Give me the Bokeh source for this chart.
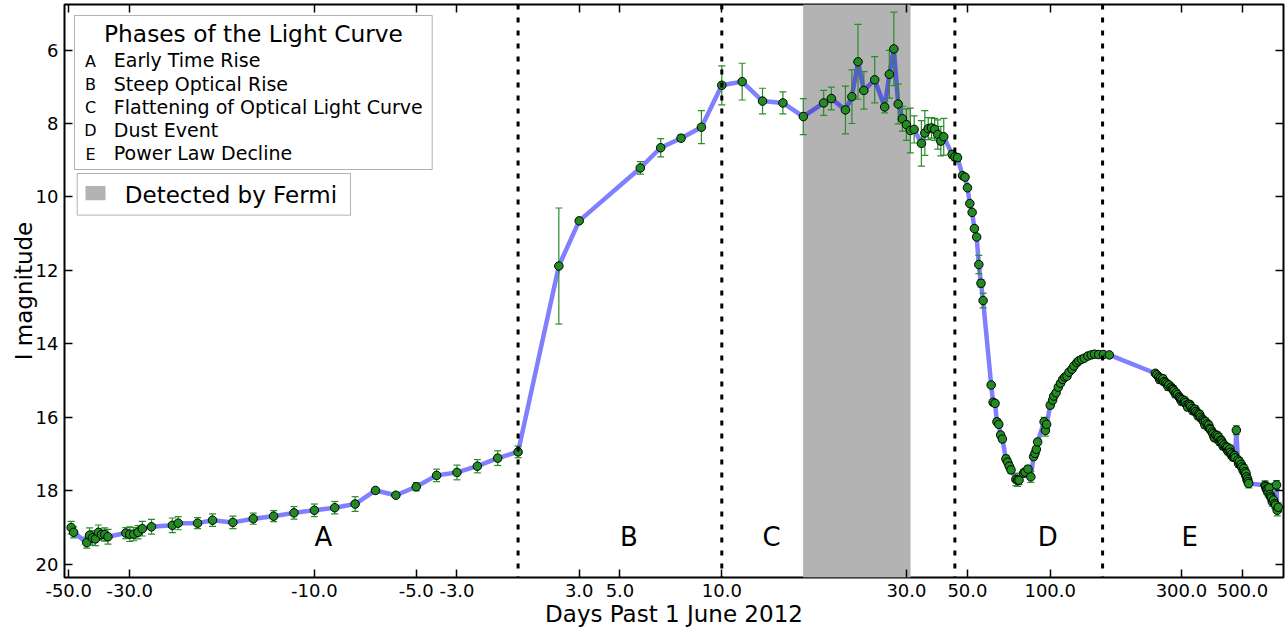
import numpy as np
from bokeh.plotting import figure
from bokeh.models import (Range1d, FixedTicker, LinearAxis, Span, BoxAnnotation,
                          Label, ColumnDataSource, CustomJSTickFormatter)
from bokeh.core.properties import value
from bokeh.embed import file_html
from bokeh.resources import INLINE

# ---------------- data (days past 1 June 2012, I magnitude, error) ----------------
days_a = [-49, -48, -43, -42, -41, -40, -39, -38, -37, -36, -31, -30, -29, -28, -27, -25,
          -21, -20, -17, -15, -14, -13, -12, -11, -10, -9, -8, -7, -6, -5, -4, -3, -2, -1, 0]
mag_a = [19.00, 19.13, 19.41, 19.21, 19.28, 19.31, 19.13, 19.19, 19.19, 19.25, 19.15, 19.18,
         19.18, 19.13, 19.03, 18.98, 18.94, 18.88, 18.88, 18.80, 18.86, 18.76, 18.69, 18.60,
         18.53, 18.46, 18.36, 17.99, 18.12, 17.89, 17.58, 17.50, 17.33, 17.11, 16.94]
err_a = [0.17, 0.15, 0.15, 0.2, 0.2, 0.18, 0.2, 0.15, 0.18, 0.2, 0.15, 0.2, 0.18, 0.18, 0.2,
         0.2, 0.2, 0.18, 0.15, 0.17, 0.17, 0.15, 0.15, 0.17, 0.17, 0.17, 0.2, 0.05, 0.05,
         0.11, 0.17, 0.2, 0.18, 0.2, 0.16]

days_b = [2, 3, 6, 7, 8, 9, 10]
mag_b = [11.88, 10.65, 9.21, 8.66, 8.40, 8.10, 6.96]
err_b = [1.58, 0.05, 0.17, 0.25, 0.09, 0.45, 0.53]

days_c = [11, 12, 13, 14, 15, 16, 18, 19, 20, 21, 23, 25, 26, 27, 28, 29, 30, 31, 32, 34,
          35, 36, 37, 38, 39, 40, 41, 44]
mag_c = [6.86, 7.39, 7.44, 7.81, 7.44, 7.32, 7.63, 7.27, 6.32, 7.10, 6.81, 7.55, 6.66, 5.97,
         7.47, 7.87, 8.03, 8.19, 8.16, 8.54, 8.26, 8.14, 8.12, 8.16, 8.30, 8.48, 8.36, 8.84]
err_c = [0.5, 0.35, 0.3, 0.49, 0.34, 0.31, 0.65, 0.73, 1.02, 0.51, 0.63, 0.16, 0.65, 1.0,
         0.54, 0.34, 0.43, 0.61, 0.37, 0.62, 0.61, 0.3, 0.28, 0.3, 0.4, 0.4, 0.5, 0.1]

days_d = [45, 46, 48, 49, 50, 51, 52, 53, 54, 55, 56, 57, 61, 62, 63, 64, 65, 66, 67, 69,
          70, 71, 72, 75, 76, 77, 80, 81, 83, 85, 87, 88, 89, 90, 95, 96, 97, 100, 102, 103,
          105, 107, 109, 111, 113, 115, 117, 120, 122, 125, 127, 130, 133, 137, 141, 145, 150]
mag_d = [8.91, 8.93, 9.42, 9.46, 9.75, 10.18, 10.42, 10.86, 11.09, 11.84, 12.35, 12.82,
         15.12, 15.59, 15.62, 16.12, 16.19, 16.48, 16.59, 17.13, 17.22, 17.33, 17.43, 17.69,
         17.71, 17.71, 17.52, 17.49, 17.41, 17.62, 17.07, 16.98, 16.87, 16.67, 16.12, 16.36,
         16.19, 15.67, 15.53, 15.42, 15.33, 15.18, 15.07, 14.97, 14.90, 14.88, 14.77, 14.69,
         14.60, 14.51, 14.46, 14.42, 14.39, 14.33, 14.30, 14.28, 14.29]
err_d = [0.1, 0.1, 0.05, 0.05, 0.05, 0.05, 0.05, 0.05, 0.05, 0.25,
         0.1, 0.2, 0.05, 0.08, 0.08, 0.08, 0.08, 0.08, 0.08, 0.1,
         0.1, 0.1, 0.1, 0.17, 0.17, 0.12, 0.1, 0.1, 0.1, 0.15,
         0.08, 0.08, 0.08, 0.08, 0.12, 0.15, 0.1, 0.08, 0.08, 0.06,
         0.06, 0.06, 0.06, 0.06, 0.06, 0.06, 0.06, 0.06, 0.06, 0.06,
         0.06, 0.06, 0.06, 0.06, 0.06, 0.06, 0.06]

days_e = [156, 164, 241, 244, 248, 252, 255, 259, 263, 266, 270, 275, 278, 282, 287, 290,
          294, 298, 302, 306, 310, 314, 319, 324, 328, 333, 338, 342, 347, 352, 357, 362,
          367, 372, 377, 383, 388, 394, 400, 405, 410, 416, 422, 428, 434, 440, 446, 452,
          458, 465, 470, 475, 481, 487, 492, 498, 506, 510, 513, 517, 520, 524, 527,
          604, 607, 612, 615, 620, 625, 630, 633, 638, 642, 648, 655, 660, 665, 669, 675]
mag_e = [14.29, 14.30, 14.80, 14.84, 14.90, 14.93, 14.98, 15.03, 15.05, 15.09, 15.12, 15.18,
         15.22, 15.28, 15.33, 15.38, 15.44, 15.50, 15.52, 15.58, 15.60, 15.66, 15.64, 15.70,
         15.76, 15.80, 15.84, 15.88, 15.91, 16.00, 16.05, 16.12, 16.12, 16.18, 16.21, 16.33,
         16.40, 16.53, 16.48, 16.50, 16.54, 16.62, 16.70, 16.75, 16.80, 16.82, 16.89, 16.95,
         17.00, 17.05, 17.10, 16.35, 17.16, 17.20, 17.30, 17.35, 17.39, 17.48, 17.57, 17.62,
         17.71, 17.75, 17.80,
         17.85, 17.89, 17.95, 17.98, 18.05, 17.92, 18.10, 18.16, 18.20, 18.30, 18.25, 18.35,
         18.39, 17.84, 18.53, 18.45]
err_e = [0.06, 0.06, 0.06, 0.06, 0.06, 0.06, 0.06, 0.08, 0.08, 0.08, 0.08, 0.08, 0.08, 0.08,
         0.08, 0.08, 0.08, 0.08, 0.1, 0.1, 0.1, 0.1, 0.1, 0.1, 0.1, 0.1, 0.1, 0.1, 0.1, 0.1,
         0.1, 0.1, 0.1, 0.1, 0.1, 0.1, 0.1, 0.1, 0.1, 0.1, 0.1, 0.1, 0.1, 0.1, 0.1, 0.1,
         0.1, 0.1, 0.1, 0.1, 0.1, 0.12, 0.1, 0.1, 0.1, 0.1, 0.1, 0.1, 0.1, 0.1, 0.12, 0.12,
         0.12,
         0.12, 0.12, 0.12, 0.12, 0.12, 0.12, 0.12, 0.12, 0.12, 0.12, 0.12, 0.12, 0.12, 0.12,
         0.15, 0.12]

# further phase-E observations (scatter within the declining band)
days_e2 = [250, 257, 268, 280, 285, 296, 300, 308, 316, 322, 330, 336, 345, 350, 360, 365,
           375, 380, 391, 397, 408, 413, 420, 425, 437, 443, 450, 455, 462, 468, 484, 495,
           503, 515, 522]
mag_e2 = [14.97, 14.95, 15.16, 15.24, 15.36, 15.47, 15.56, 15.55, 15.72, 15.66, 15.82, 15.78,
          15.96, 15.93, 16.08, 16.20, 16.26, 16.30, 16.45, 16.56, 16.60, 16.66, 16.64, 16.78,
          16.85, 16.92, 16.86, 17.02, 17.08, 17.04, 17.26, 17.28, 17.45, 17.52, 17.68]
err_e2 = [0.1] * 35

phase_bounds = [0, 10, 45, 155]          # dotted phase separators (days)
fermi_window = [14, 31]                  # days detected by Fermi
phase_letters = ["A", "B", "C", "D", "E"]
phase_letter_days = [-10, 5, 12, 90, 300]
phase_letter_mag = 19.27
phase_names = ["Early Time Rise", "Steep Optical Rise", "Flattening of Optical Light Curve",
               "Dust Event", "Power Law Decline"]
xtick_days = [-50, -30, -10, -5, -3, 3, 5, 10, 30, 50, 100, 300, 500]
xtick_labels = ["-50.0", "-30.0", "-10.0", "-5.0", "-3.0", "3.0", "5.0", "10.0", "30.0",
                "50.0", "100.0", "300.0", "500.0"]
ytick_vals = [6, 8, 10, 12, 14, 16, 18, 20]

# ---------------- symmetric-log x scale (linthresh 15) ----------------
LINTHRESH = 15.0
LINSCALE_ADJ = 1.0 / (1.0 - 0.1)


def symlog(t):
    t = np.asarray(t, dtype=float)
    a = np.abs(t)
    lin = a / LINTHRESH * LINSCALE_ADJ
    lg = LINSCALE_ADJ + np.log10(np.maximum(a, 1e-12) / LINTHRESH)
    return np.sign(t) * np.where(a <= LINTHRESH, lin, lg)


days = np.array(days_a + days_b + days_c + days_d + days_e + days_e2, dtype=float)
mags = np.array(mag_a + mag_b + mag_c + mag_d + mag_e + mag_e2, dtype=float)
errs = np.array(err_a + err_b + err_c + err_d + err_e + err_e2, dtype=float)
order = np.argsort(days, kind="stable")
days, mags, errs = days[order], mags[order], errs[order]

src = ColumnDataSource(dict(x=symlog(days), y=mags, lo=mags + errs, hi=mags - errs))

# ---------------- figure ----------------
W, H = 1285, 629
FL, FR, FT, FB = 64, 1283, 4, 578
X0, X1 = float(symlog(-51.8)), float(symlog(705))
YT, YB = 4.76, 20.36

p = figure(width=W, height=H, output_backend="svg", toolbar_location=None,
           x_range=Range1d(X0, X1), y_range=Range1d(YB, YT),
           min_border_left=FL, min_border_right=W - FR, min_border_top=FT,
           min_border_bottom=H - FB)
p.background_fill_color = "white"
p.border_fill_color = "white"
p.outline_line_color = "black"
p.outline_line_width = 2
p.grid.visible = False

FONT = "DejaVu Sans"


def px_x(px):
    return X0 + (px - FL) / (FR - FL) * (X1 - X0)


def px_y(py):
    return YT + (py - FT) / (FB - FT) * (YB - YT)


# Fermi band
p.add_layout(BoxAnnotation(left=float(symlog(fermi_window[0])), right=float(symlog(fermi_window[1])),
                           fill_color="#b3b3b3", fill_alpha=1.0, line_color="#a6a6a6",
                           line_width=1, level="underlay"))

# light curve
p.line("x", "y", source=src, line_color="#0000ff", line_alpha=0.5, line_width=4.5,
       line_join="round")
p.segment(x0="x", y0="lo", x1="x", y1="hi", source=src, line_color="#2a8c2a", line_width=1.2)
p.scatter("x", "lo", source=src, marker="dash", size=7, line_color="#2a8c2a", line_width=1.2)
p.scatter("x", "hi", source=src, marker="dash", size=7, line_color="#2a8c2a", line_width=1.2)
p.scatter("x", "y", source=src, size=8.5, fill_color="#228B22", line_color="black",
          line_width=1)

# phase letters
p.text(x=symlog(phase_letter_days), y=[phase_letter_mag] * len(phase_letters), text=phase_letters,
       text_font=value(FONT), text_font_size="26px", text_align="left",
       text_baseline="middle", text_color="black")

# phase separators
for d in phase_bounds:
    p.add_layout(Span(location=float(symlog(d)), dimension="height", line_color="black",
                      line_width=3, line_dash="5 8"))

# ---------------- axes ----------------
xt = [float(v) for v in symlog(xtick_days)]
fmt = CustomJSTickFormatter(args=dict(tv=xt, tl=xtick_labels), code="""
let best = -1, bd = 1e9;
for (let i = 0; i < tv.length; i++) { const d = Math.abs(tv[i] - tick); if (d < bd) { bd = d; best = i; } }
return bd < 1e-6 ? tl[best] : "";
""")

for ax in p.xaxis:
    ax.ticker = FixedTicker(ticks=xt)
    ax.formatter = fmt
    ax.axis_label = "Days Past 1 June 2012"
for ax in p.yaxis:
    ax.ticker = FixedTicker(ticks=ytick_vals)
    ax.axis_label = "I magnitude"

for ax in list(p.xaxis) + list(p.yaxis):
    ax.major_tick_in = 8
    ax.major_tick_out = 0
    ax.minor_tick_line_color = None
    ax.major_tick_line_width = 1.5
    ax.axis_line_color = None
    ax.major_label_text_font = FONT
    ax.major_label_text_font_size = "18px"
    ax.major_label_text_color = "black"
    ax.axis_label_text_font = FONT
    ax.axis_label_text_font_size = "23px"
    ax.axis_label_text_font_style = "normal"
    ax.axis_label_text_color = "black"

p.xaxis.major_label_standoff = 6
p.xaxis.axis_label_standoff = 1
p.yaxis.major_label_standoff = 6
p.yaxis.axis_label_standoff = -4

top_ax = LinearAxis(ticker=FixedTicker(ticks=xt), major_label_text_font_size="0px",
                    major_label_text_color=None,
                    major_tick_in=8, major_tick_out=0, minor_tick_line_color=None,
                    major_tick_line_width=1.5, axis_line_color=None, major_label_standoff=0)
right_ax = LinearAxis(ticker=FixedTicker(ticks=ytick_vals), major_label_text_font_size="0px",
                      major_label_text_color=None,
                      major_tick_in=8, major_tick_out=0, minor_tick_line_color=None,
                      major_tick_line_width=1.5, axis_line_color=None, major_label_standoff=0)
p.add_layout(top_ax, "above")
p.add_layout(right_ax, "right")

# ---------------- legends (boxes placed in screen-pixel layout) ----------------
p.add_layout(BoxAnnotation(left=px_x(74), right=px_x(431.7), top=px_y(15), bottom=px_y(169.3),
                           fill_color="white", fill_alpha=1.0, line_color="black",
                           line_width=1, level="annotation"))
p.add_layout(Label(x=px_x(253), y=px_y(33.5), text="Phases of the Light Curve",
                   text_align="center", text_baseline="middle", text_font=FONT,
                   text_font_size="23.3px", text_color="black"))
for i, (let, name) in enumerate(zip(phase_letters, phase_names)):
    mid = 60 + i * 23.2
    p.add_layout(Label(x=px_x(90), y=px_y(mid + 1), text=let, text_align="center",
                       text_baseline="middle", text_font=FONT, text_font_size="16px",
                       text_color="black"))
    p.add_layout(Label(x=px_x(113.3), y=px_y(mid), text=name, text_align="left",
                       text_baseline="middle", text_font=FONT, text_font_size="19px",
                       text_color="black"))

p.add_layout(BoxAnnotation(left=px_x(76.7), right=px_x(350), top=px_y(173.3), bottom=px_y(215),
                           fill_color="white", fill_alpha=1.0, line_color="black",
                           line_width=1, level="annotation"))
p.add_layout(BoxAnnotation(left=px_x(85), right=px_x(105), top=px_y(185.7), bottom=px_y(200),
                           fill_color="#b3b3b3", fill_alpha=1.0, line_color=None,
                           level="annotation"))
p.add_layout(Label(x=px_x(124.3), y=px_y(194.5), text="Detected by Fermi", text_align="left",
                   text_baseline="middle", text_font=FONT, text_font_size="23px",
                   text_color="black"))

open("out.html", "w").write(file_html(p, INLINE))
